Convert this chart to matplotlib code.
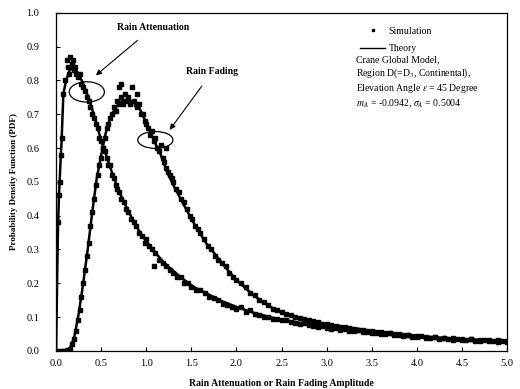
import matplotlib
matplotlib.use('Agg')
import matplotlib.pyplot as plt
from matplotlib.patches import Ellipse

plt.rcParams['font.family'] = ['Liberation Serif', 'DejaVu Serif']
plt.rcParams['mathtext.fontset'] = 'stix'

# Theory curves
att_x = [0.0, 0.01, 0.02, 0.03, 0.045, 0.06, 0.08, 0.11, 0.15, 0.19, 0.25, 0.3, 0.37, 0.44,
         0.5, 0.56, 0.62, 0.7, 0.81, 0.93, 1.07, 1.2, 1.37, 1.52, 1.67, 1.83, 2.0, 2.2, 2.4,
         2.7, 3.0, 3.5, 4.0, 4.5, 5.0]
att_y = [0.0, 0.2, 0.36, 0.45, 0.54, 0.62, 0.76, 0.80, 0.83, 0.84, 0.82, 0.79, 0.74, 0.68,
         0.62, 0.575, 0.527, 0.47, 0.408, 0.35, 0.30, 0.26, 0.22, 0.19, 0.17, 0.148, 0.13, 0.112,
         0.098, 0.083, 0.07, 0.054, 0.042, 0.033, 0.027]

fad_x = [0.0, 0.1, 0.15, 0.2, 0.25, 0.3, 0.35, 0.4, 0.45, 0.5, 0.55, 0.6, 0.66, 0.72, 0.78,
         0.85, 0.92, 1.0, 1.08, 1.16, 1.23, 1.3, 1.37, 1.46, 1.55, 1.66, 1.78, 1.9, 2.0, 2.13,
         2.26, 2.44, 2.7, 3.0, 3.5, 4.0, 4.5, 5.0]
fad_y = [0.0, 0.0, 0.005, 0.04, 0.11, 0.2, 0.3, 0.41, 0.51, 0.58, 0.645, 0.69, 0.72, 0.737,
         0.743, 0.738, 0.72, 0.675, 0.625, 0.58, 0.53, 0.49, 0.455, 0.41, 0.367, 0.32, 0.28,
         0.24, 0.21, 0.178, 0.15, 0.12, 0.097, 0.079, 0.059, 0.044, 0.035, 0.03]

# Simulation points
att_sim_x = [0.02, 0.03, 0.04, 0.05, 0.06, 0.08, 0.1, 0.12, 0.13, 0.14, 0.15, 0.17, 0.18, 0.19,
             0.2, 0.21, 0.22, 0.24, 0.26, 0.28, 0.3, 0.32, 0.34, 0.36, 0.38, 0.4, 0.42, 0.44,
             0.46, 0.48, 0.5, 0.52, 0.54, 0.56, 0.58, 0.6, 0.62, 0.64, 0.66, 0.68, 0.7, 0.72,
             0.75, 0.78, 0.8, 0.83, 0.86, 0.89, 0.92, 0.95, 0.98, 1.0, 1.03, 1.06, 1.08, 1.1,
             1.14, 1.18, 1.22, 1.26, 1.3, 1.34, 1.38, 1.42, 1.46, 1.5, 1.55, 1.6, 1.65, 1.7,
             1.75, 1.8, 1.85, 1.9, 1.95, 2.0, 2.05, 2.1, 2.15, 2.2, 2.25, 2.3, 2.35, 2.4,
             2.45, 2.5, 2.55, 2.6, 2.65, 2.7, 2.75, 2.8, 2.85, 2.9, 2.95, 3.0, 3.05, 3.1, 3.15,
             3.2, 3.25, 3.3, 3.35, 3.4, 3.45, 3.5, 3.55, 3.6, 3.65, 3.7, 3.75, 3.8, 3.85, 3.9,
             3.95, 4.0, 4.05, 4.1, 4.15, 4.2, 4.25, 4.3, 4.35, 4.4, 4.45, 4.5, 4.55, 4.6, 4.65,
             4.7, 4.75, 4.8, 4.85, 4.9, 4.95, 5.0]
att_sim_y = [0.38, 0.46, 0.5, 0.58, 0.63, 0.76, 0.8, 0.86, 0.84, 0.82, 0.87, 0.84, 0.85, 0.86,
             0.83, 0.84, 0.82, 0.81, 0.82, 0.79, 0.78, 0.77, 0.75, 0.74, 0.72, 0.7, 0.69, 0.67,
             0.66, 0.63, 0.62, 0.6, 0.59, 0.57, 0.55, 0.55, 0.52, 0.51, 0.49, 0.48, 0.47, 0.45,
             0.44, 0.42, 0.41, 0.39, 0.38, 0.37, 0.35, 0.34, 0.32, 0.33, 0.31, 0.3, 0.25, 0.29,
             0.27, 0.26, 0.25, 0.24, 0.23, 0.22, 0.22, 0.2, 0.2, 0.19, 0.18, 0.18, 0.17, 0.16,
             0.155, 0.15, 0.14, 0.135, 0.13, 0.125, 0.13, 0.115, 0.12, 0.11, 0.105, 0.1, 0.1, 0.095,
             0.095, 0.09, 0.092, 0.085, 0.083, 0.08, 0.082, 0.076, 0.074, 0.072, 0.075, 0.068,
             0.066, 0.069, 0.062, 0.064, 0.06, 0.058, 0.061, 0.055, 0.057, 0.052, 0.054, 0.05,
             0.049, 0.052, 0.046, 0.047, 0.044, 0.046, 0.042, 0.041, 0.044, 0.039, 0.037, 0.04,
             0.036, 0.038, 0.034, 0.033, 0.036, 0.032, 0.031, 0.034, 0.03, 0.029, 0.031, 0.028,
             0.03, 0.026, 0.028, 0.026]

fad_sim_x = [0.02, 0.05, 0.08, 0.1, 0.12, 0.15, 0.18, 0.2, 0.22, 0.24, 0.26, 0.28, 0.3, 0.32,
             0.34, 0.36, 0.38, 0.4, 0.42, 0.44, 0.46, 0.48, 0.5, 0.52, 0.54, 0.56, 0.58, 0.6,
             0.62, 0.64, 0.66, 0.68, 0.7, 0.72, 0.74, 0.76, 0.78, 0.8, 0.82, 0.84, 0.86, 0.88,
             0.9, 0.92, 0.94, 0.96, 0.98, 1.0, 1.02, 1.04, 1.06, 1.08, 1.1, 1.12, 1.14, 1.16,
             1.18, 1.2, 1.22, 1.24, 1.26, 1.28, 1.3, 1.33, 1.36, 1.39, 1.42, 1.45, 1.48, 1.51,
             1.54, 1.57, 1.6, 1.64, 1.68, 1.72, 1.76, 1.8, 1.84, 1.88, 1.92, 1.96, 2.0, 2.05,
             2.1, 2.15, 2.2, 2.25, 2.3, 2.35, 2.4, 2.45, 2.5, 2.55, 2.6, 2.65, 2.7, 2.75, 2.8,
             2.85, 2.9, 2.95, 3.0, 3.05, 3.1, 3.15, 3.2, 3.25, 3.3, 3.35, 3.4, 3.45, 3.5, 3.55,
             3.6, 3.65, 3.7, 3.75, 3.8, 3.85, 3.9, 3.95, 4.0, 4.1, 4.2, 4.3, 4.4, 4.5, 4.6, 4.7,
             4.8, 4.9, 5.0, 0.7, 0.72, 0.9, 1.22]
fad_sim_y = [0.0, 0.0, 0.0, 0.0, 0.002, 0.005, 0.02, 0.035, 0.06, 0.09, 0.12, 0.16, 0.2, 0.24,
             0.28, 0.32, 0.37, 0.41, 0.45, 0.49, 0.52, 0.55, 0.57, 0.6, 0.63, 0.66, 0.67, 0.69,
             0.7, 0.72, 0.71, 0.74, 0.73, 0.75, 0.73, 0.76, 0.74, 0.75, 0.73, 0.78, 0.74, 0.73,
             0.72, 0.73, 0.7, 0.7, 0.68, 0.67, 0.66, 0.64, 0.65, 0.62, 0.63, 0.6, 0.59, 0.61,
             0.57, 0.56, 0.54, 0.53, 0.52, 0.51, 0.5, 0.48, 0.47, 0.45, 0.44, 0.42, 0.4, 0.39,
             0.37, 0.36, 0.35, 0.33, 0.31, 0.3, 0.28, 0.27, 0.26, 0.25, 0.23, 0.22, 0.21, 0.2,
             0.19, 0.17, 0.165, 0.15, 0.145, 0.135, 0.125, 0.12, 0.115, 0.11, 0.105, 0.1, 0.097,
             0.094, 0.09, 0.087, 0.085, 0.08, 0.079, 0.077, 0.073, 0.072, 0.07, 0.067, 0.066,
             0.063, 0.062, 0.06, 0.058, 0.057, 0.055, 0.053, 0.052, 0.05, 0.049, 0.048, 0.046,
             0.045, 0.044, 0.042, 0.04, 0.039, 0.037, 0.036, 0.034, 0.033, 0.032, 0.031, 0.03,
             0.78, 0.79, 0.76, 0.6]

xticks = [0.0, 0.5, 1.0, 1.5, 2.0, 2.5, 3.0, 3.5, 4.0, 4.5, 5.0]
yticks = [0.0, 0.1, 0.2, 0.3, 0.4, 0.5, 0.6, 0.7, 0.8, 0.9, 1.0]

info = ("Crane Global Model,\n"
        "Region D(=D$_3$, Continental),\n"
        "Elevation Angle $\\varepsilon$ = 45 Degree\n"
        "$m_A$ = -0.0942, $\\sigma_A$ = 0.5004")

fig = plt.figure(figsize=(5.2, 3.89), dpi=100)
ax = fig.add_axes([0.108, 0.098, 0.867, 0.869])

ax.plot(att_x, att_y, color='black', linewidth=1.8, label='Theory')
ax.plot(fad_x, fad_y, color='black', linewidth=1.8)
ax.plot(att_sim_x, att_sim_y, linestyle='none', marker='s', markersize=2.4,
        color='black', label='Simulation')
ax.plot(fad_sim_x, fad_sim_y, linestyle='none', marker='s', markersize=2.4, color='black')

ax.set_xlim(0, 5)
ax.set_ylim(0, 1)
ax.set_xticks(xticks)
ax.set_yticks(yticks)
ax.set_xticklabels(['%.1f' % t for t in xticks], fontsize=7.5)
ax.set_yticklabels(['%.1f' % t for t in yticks], fontsize=7.5)
ax.tick_params(direction='in', length=3, top=False, right=False)
ax.tick_params(axis='y', pad=12)
ax.tick_params(axis='x', pad=6)
for s in ax.spines.values():
    s.set_linewidth(0.9)

ax.set_xlabel('Rain Attenuation or Rain Fading Amplitude', fontsize=7, fontweight='bold', labelpad=8)
ax.set_ylabel('Probability Density Function (PDF)', fontsize=6.5, fontweight='bold', labelpad=6)

# annotations with ellipses
ax.add_patch(Ellipse((0.34, 0.766), 0.39, 0.06, fill=False, edgecolor='black', linewidth=0.9))
ax.add_patch(Ellipse((1.10, 0.624), 0.39, 0.05, fill=False, edgecolor='black', linewidth=0.9))
ax.annotate('Rain Attenuation', xy=(0.44, 0.815), xytext=(1.07, 0.956), fontsize=7,
            fontweight='bold', ha='center', va='center',
            arrowprops=dict(arrowstyle='-|>', color='black', lw=0.8, shrinkA=6, shrinkB=0,
                            mutation_scale=8))
ax.annotate('Rain Fading', xy=(1.26, 0.654), xytext=(1.73, 0.825), fontsize=7,
            fontweight='bold', ha='center', va='center',
            arrowprops=dict(arrowstyle='-|>', color='black', lw=0.8, shrinkA=6, shrinkB=0,
                            mutation_scale=8))

handles, labels = ax.get_legend_handles_labels()
leg = ax.legend(handles[::-1], labels[::-1], loc='upper left', bbox_to_anchor=(0.655, 0.985),
                frameon=False, fontsize=7, handlelength=2.6, handletextpad=0.3,
                labelspacing=0.9, markerscale=0.7)
leg.get_lines()[1].set_linewidth(1.0)
ax.text(3.33, 0.875, info, fontsize=7, va='top', ha='left', linespacing=1.25)

fig.savefig('out.png', dpi=100)
